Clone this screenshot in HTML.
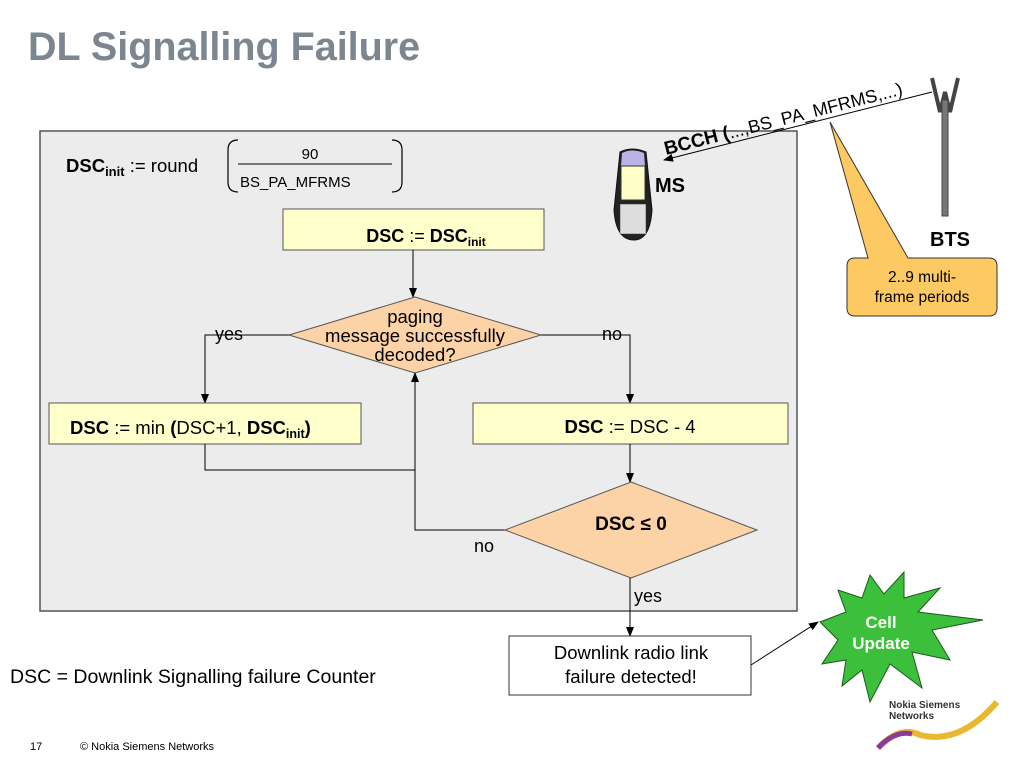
<!DOCTYPE html>
<html><head><meta charset="utf-8"><style>
body{margin:0;background:#fff;}
svg{display:block;font-family:"Liberation Sans",sans-serif;}
</style></head><body>
<svg width="1024" height="768" viewBox="0 0 1024 768" xmlns="http://www.w3.org/2000/svg">
<defs>
<marker id="a" markerWidth="10" markerHeight="8" refX="9" refY="4" orient="auto" markerUnits="userSpaceOnUse"><path d="M0,0 L10,4 L0,8 z" fill="#000"/></marker>
</defs>
<text x="28" y="60" font-size="39.5" font-weight="bold" fill="#7b8690">DL Signalling Failure</text>
<rect x="40" y="131" width="757" height="480" fill="#ececec" stroke="#555" stroke-width="1.5"/>
<text x="66" y="172" font-size="18.5"><tspan font-weight="bold">DSC</tspan><tspan font-weight="bold" font-size="13" dy="4">init</tspan><tspan dy="-4"> := round</tspan></text>
<path d="M238,140 Q228,140 228,150 L228,182 Q228,192 238,192" fill="none" stroke="#000" stroke-width="1.2"/>
<path d="M392,140 Q402,140 402,150 L402,182 Q402,192 392,192" fill="none" stroke="#000" stroke-width="1.2"/>
<text x="310" y="159" font-size="15" text-anchor="middle">90</text>
<line x1="238" y1="164" x2="392" y2="164" stroke="#000"/>
<text x="240" y="187" font-size="15">BS_PA_MFRMS</text>
<rect x="283" y="209" width="261" height="41" fill="#ffffcc" stroke="#555"/>
<text x="426" y="242" font-size="18" text-anchor="middle"><tspan font-weight="bold">DSC</tspan> := <tspan font-weight="bold">DSC</tspan><tspan font-weight="bold" font-size="12" dy="4">init</tspan></text>
<line x1="413" y1="250" x2="413" y2="297" stroke="#000" marker-end="url(#a)"/>
<polygon points="415,297 541,335 415,373 289,335" fill="#fbd3a6" stroke="#555"/>
<text x="415" y="323" font-size="18.5" text-anchor="middle">paging</text>
<text x="415" y="342" font-size="18.5" text-anchor="middle">message successfully</text>
<text x="415" y="361" font-size="18.5" text-anchor="middle">decoded?</text>
<text x="215" y="340" font-size="18">yes</text>
<text x="602" y="340" font-size="18">no</text>
<polyline points="289,335 205,335 205,403" fill="none" stroke="#000" marker-end="url(#a)"/>
<polyline points="541,335 630,335 630,403" fill="none" stroke="#000" marker-end="url(#a)"/>
<rect x="49" y="403" width="312" height="41" fill="#ffffcc" stroke="#555"/>
<text x="70" y="434" font-size="18.5"><tspan font-weight="bold">DSC</tspan> := min <tspan font-weight="bold">(</tspan>DSC+1, <tspan font-weight="bold">DSC</tspan><tspan font-weight="bold" font-size="12.5" dy="4">init</tspan><tspan font-weight="bold" dy="-4">)</tspan></text>
<rect x="473" y="403" width="315" height="41" fill="#ffffcc" stroke="#555"/>
<text x="630" y="433" font-size="18.5" text-anchor="middle"><tspan font-weight="bold">DSC</tspan> := DSC - 4</text>
<polyline points="205,444 205,470 415,470" fill="none" stroke="#000"/>
<polyline points="505,530 415,530 415,373" fill="none" stroke="#000" marker-end="url(#a)"/>
<line x1="630" y1="444" x2="630" y2="482" stroke="#000" marker-end="url(#a)"/>
<polygon points="631,482 757,530 631,578 505,530" fill="#fbd3a6" stroke="#555"/>
<text x="631" y="530" font-size="19" font-weight="bold" text-anchor="middle">DSC ≤ 0</text>
<text x="474" y="552" font-size="18">no</text>
<text x="634" y="602" font-size="18">yes</text>
<line x1="630" y1="578" x2="630" y2="636" stroke="#000" marker-end="url(#a)"/>
<rect x="509" y="636" width="242" height="59" fill="#fff" stroke="#333"/>
<text x="631" y="659" font-size="18.5" text-anchor="middle">Downlink radio link</text>
<text x="631" y="683" font-size="18.5" text-anchor="middle">failure detected!</text>
<line x1="751" y1="665" x2="818" y2="622" stroke="#000" marker-end="url(#a)"/>
<polygon points="820,622 846,612 838,590 862,598 870,575 884,594 904,572 904,598 940,588 918,612 983,620 932,630 950,660 912,652 922,688 890,664 870,702 862,670 842,686 846,660 822,664 838,640" fill="#3cbf3a" stroke="#1a5a1a" stroke-width="1"/>
<text x="881" y="628" font-size="17" font-weight="bold" fill="#fff" text-anchor="middle">Cell</text>
<text x="881" y="649" font-size="17" font-weight="bold" fill="#fff" text-anchor="middle">Update</text>
<text x="10" y="683" font-size="19.5">DSC = Downlink Signalling failure Counter</text>
<path d="M620,152 Q632,146 646,152 L652,210 Q650,240 634,240 Q616,240 614,210 Z" fill="#222" stroke="#111"/>
<path d="M622,153 Q632,148 644,153 L645,166 L621,166 Z" fill="#b9b3e8"/>
<rect x="621" y="166" width="24" height="34" fill="#ffffc8" stroke="#333"/>
<rect x="620" y="204" width="26" height="30" fill="#ddd" stroke="#333" stroke-width=".5"/>
<text x="655" y="192" font-size="20" font-weight="bold">MS</text>
<line x1="932" y1="92" x2="664" y2="160" stroke="#000" marker-end="url(#a)"/>
<text transform="translate(666,155) rotate(-14.3)" font-size="19" font-weight="bold">BCCH (<tspan font-weight="normal" font-size="18">...,BS_PA_MFRMS,...)</tspan></text>
<path d="M932,78 L940,112 L945,92 L950,112 L958,78" fill="none" stroke="#444" stroke-width="4"/>
<rect x="942" y="100" width="6" height="116" fill="#777" stroke="#444" stroke-width="1"/>
<text x="950" y="246" font-size="20" font-weight="bold" text-anchor="middle">BTS</text>
<path d="M830,122 L868,258 L855,258 Q847,258 847,266 L847,308 Q847,316 855,316 L989,316 Q997,316 997,308 L997,266 Q997,258 989,258 L908,258 Z" fill="#fcc962" stroke="#333"/>
<text x="922" y="282" font-size="15.5" text-anchor="middle">2..9 multi-</text>
<text x="922" y="302" font-size="15.5" text-anchor="middle">frame periods</text>
<text x="889" y="708" font-size="10" font-weight="bold" fill="#333">Nokia Siemens</text>
<text x="889" y="719" font-size="10" font-weight="bold" fill="#333">Networks</text>
<path d="M878,748 Q900,725 920,735 Q960,745 997,702" fill="none" stroke="#e8b830" stroke-width="6"/>
<path d="M878,748 Q895,730 912,734" fill="none" stroke="#8a3a9a" stroke-width="5"/>
<text x="30" y="750" font-size="11">17</text>
<text x="80" y="750" font-size="11">© Nokia Siemens Networks</text>
</svg>
</body></html>
